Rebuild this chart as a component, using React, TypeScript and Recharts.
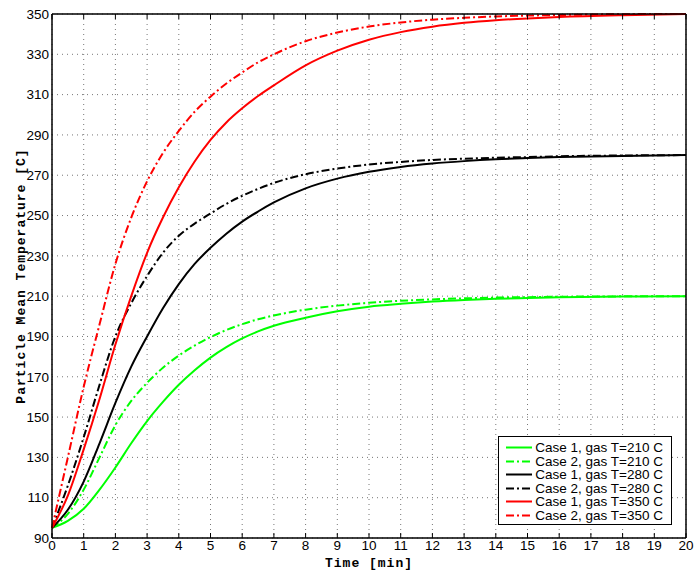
import React from "react";
import {
  LineChart,
  Line,
  XAxis,
  YAxis,
  CartesianGrid,
  Legend,
} from "recharts";

// sample times [min]
const times = [0, 0.5, 1, 1.5, 2, 2.5, 3, 3.5, 4, 4.5, 5, 5.5, 6, 6.5, 7, 8, 9, 10, 11, 12, 13, 14, 15, 16, 18, 20];

// particle mean temperature [C] per case
const case1Gas210 = [95, 98.5, 104.5, 114, 125, 137, 148, 157.5, 166, 173.2, 179.5, 184.7, 189, 192.5, 195.3, 199.3, 202.5, 204.8, 206.2, 207.3, 208.1, 208.7, 209.1, 209.4, 209.8, 210];
const case2Gas210 = [95, 102, 114, 130, 146, 158, 167, 174.5, 180.5, 185.5, 189.7, 193.2, 196.1, 198.5, 200.4, 203.3, 205.3, 206.7, 207.7, 208.4, 208.9, 209.3, 209.5, 209.7, 209.9, 210];
const case1Gas280 = [95, 104, 118, 137, 157, 175, 190, 204, 216, 226, 234, 241, 247, 252, 256.5, 263.5, 268.3, 271.7, 274.1, 275.8, 277, 277.9, 278.5, 279, 279.6, 280];
const case2Gas280 = [95, 116, 140, 166, 190, 206.5, 220, 231.5, 240, 246, 251, 255.8, 259.8, 263.2, 266.2, 270.5, 273.3, 275.3, 276.6, 277.6, 278.2, 278.7, 279, 279.4, 279.8, 280];
const case1Gas350 = [95, 111, 134, 159, 186, 210, 231.5, 249, 264, 276.8, 287.5, 296.2, 303.2, 309.3, 314.6, 324.5, 331.8, 337.2, 341, 343.7, 345.6, 346.9, 347.8, 348.5, 349.4, 350];
const case2Gas350 = [95, 130, 165, 196, 226, 249, 267, 281, 292, 301.5, 309, 315.5, 321, 326, 330, 336.5, 340.8, 343.8, 345.8, 347.2, 348.1, 348.8, 349.2, 349.5, 349.9, 350];

const xTicks = [0, 1, 2, 3, 4, 5, 6, 7, 8, 9, 10, 11, 12, 13, 14, 15, 16, 17, 18, 19, 20];
const yTicks = [90, 110, 130, 150, 170, 190, 210, 230, 250, 270, 290, 310, 330, 350];

const data = times.map((t, i) => ({
  t,
  g1: case1Gas210[i],
  g2: case2Gas210[i],
  k1: case1Gas280[i],
  k2: case2Gas280[i],
  r1: case1Gas350[i],
  r2: case2Gas350[i],
}));

const DASH_DOT = "8 3 2 3";

const series = [
  { key: "g1", name: "Case 1, gas T=210 C", color: "#00ff00", dash: undefined },
  { key: "g2", name: "Case 2, gas T=210 C", color: "#00ff00", dash: DASH_DOT },
  { key: "k1", name: "Case 1, gas T=280 C", color: "#000000", dash: undefined },
  { key: "k2", name: "Case 2, gas T=280 C", color: "#000000", dash: DASH_DOT },
  { key: "r1", name: "Case 1, gas T=350 C", color: "#ff0000", dash: undefined },
  { key: "r2", name: "Case 2, gas T=350 C", color: "#ff0000", dash: DASH_DOT },
];

const tickFont = { fill: "#000", fontSize: 13.5, fontFamily: "'Liberation Sans', Arial, sans-serif" };
const labelFont = {
  fill: "#000",
  fontSize: 13,
  fontWeight: 700,
  letterSpacing: 1,
  fontFamily: "'Liberation Mono', 'DejaVu Sans Mono', monospace",
};
const blank = () => "";

const LegendBox = () => (
  <div
    style={{
      border: "1px solid #000",
      background: "#fff",
      padding: "4px 8px 2px 7px",
      fontFamily: "'Liberation Sans', Arial, sans-serif",
      fontSize: 13.5,
      color: "#000",
    }}
  >
    {series.map((s) => (
      <div key={s.key} style={{ display: "flex", alignItems: "center", height: 13.5 }}>
        <svg width={34} height={13} style={{ marginRight: 3 }}>
          <line x1={0} y1={6.5} x2={34} y2={6.5} stroke={s.color} strokeWidth={2} strokeDasharray={s.dash} />
        </svg>
        <span style={{ lineHeight: "13.5px", whiteSpace: "nowrap" }}>{s.name}</span>
      </div>
    ))}
  </div>
);

export default function App() {
  return (
    <div style={{ position: "absolute", left: 0, top: 0, width: 694, height: 572, background: "#fff" }}>
      <LineChart width={694} height={572} data={data} margin={{ top: 14, right: 8, bottom: 14, left: 0 }}>
        <CartesianGrid xAxisId="b" yAxisId="l" stroke="#777" strokeDasharray="1 4" />
        <XAxis
          xAxisId="b"
          type="number"
          dataKey="t"
          domain={[0, 20]}
          ticks={xTicks}
          interval={0}
          height={20}
          tickSize={0}
          tickMargin={2}
          tickLine={false}
          axisLine={{ stroke: "#000", strokeWidth: 1.5 }}
          tick={tickFont}
          label={{ value: "Time [min]", position: "bottom", offset: 0, style: labelFont }}
        />
        {/* inward tick marks on all four sides of the box */}
        <XAxis
          xAxisId="bm"
          type="number"
          dataKey="t"
          domain={[0, 20]}
          ticks={xTicks}
          interval={0}
          mirror
          tickSize={5}
          tickFormatter={blank}
          axisLine={false}
          tickLine={{ stroke: "#000" }}
        />
        <XAxis
          xAxisId="top"
          orientation="top"
          type="number"
          dataKey="t"
          domain={[0, 20]}
          ticks={xTicks}
          interval={0}
          mirror
          tickSize={5}
          tickFormatter={blank}
          axisLine={{ stroke: "#000", strokeWidth: 1.5 }}
          tickLine={{ stroke: "#000" }}
        />
        <YAxis
          yAxisId="l"
          type="number"
          domain={[90, 350]}
          ticks={yTicks}
          interval={0}
          width={52}
          tickSize={0}
          tickMargin={3}
          tickLine={false}
          axisLine={{ stroke: "#000", strokeWidth: 1.5 }}
          tick={tickFont}
          label={{
            value: "Particle Mean Temperature [C]",
            angle: -90,
            position: "insideLeft",
            offset: 20,
            style: { ...labelFont, textAnchor: "middle" },
          }}
        />
        <YAxis
          yAxisId="lm"
          type="number"
          domain={[90, 350]}
          ticks={yTicks}
          interval={0}
          mirror
          tickSize={5}
          tickFormatter={blank}
          axisLine={false}
          tickLine={{ stroke: "#000" }}
        />
        <YAxis
          yAxisId="r"
          orientation="right"
          type="number"
          domain={[90, 350]}
          ticks={yTicks}
          interval={0}
          mirror
          tickSize={5}
          tickFormatter={blank}
          axisLine={{ stroke: "#000", strokeWidth: 1.5 }}
          tickLine={{ stroke: "#000" }}
        />
        {series.map((s) => (
          <Line
            key={s.key}
            xAxisId="b"
            yAxisId="l"
            type="monotone"
            dataKey={s.key}
            name={s.name}
            stroke={s.color}
            strokeWidth={2}
            strokeDasharray={s.dash}
            dot={false}
            activeDot={false}
            isAnimationActive={false}
          />
        ))}
        <Legend
          layout="vertical"
          align="center"
          verticalAlign="middle"
          content={<LegendBox />}
          wrapperStyle={{ left: 498, top: 436, width: 174, height: "auto" }}
        />
      </LineChart>
    </div>
  );
}
